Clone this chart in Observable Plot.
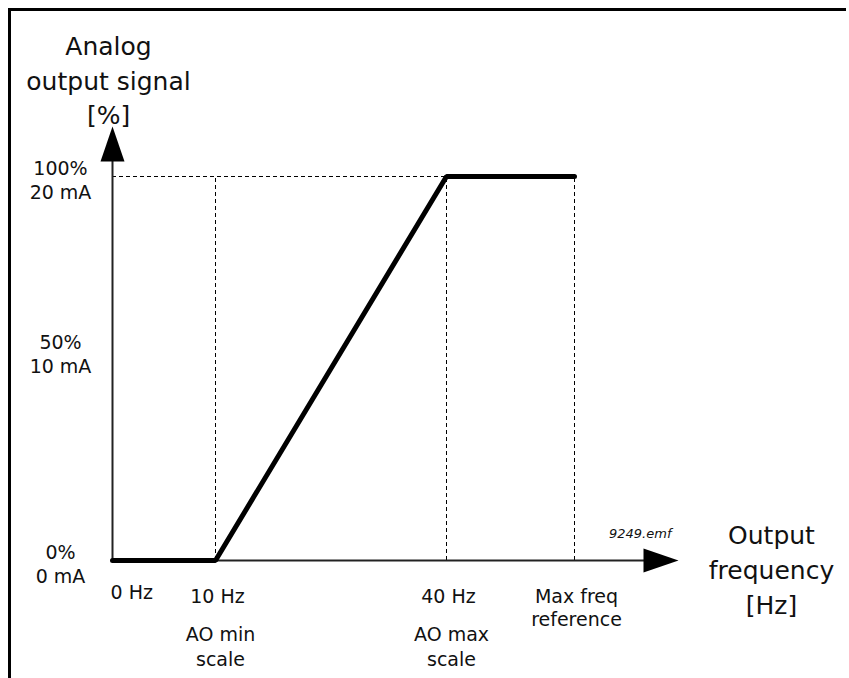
<!DOCTYPE html>
<html>
<head>
<meta charset="utf-8">
<script src="https://cdn.jsdelivr.net/npm/d3@7"></script>
<script src="https://cdn.jsdelivr.net/npm/@observablehq/plot@0.6"></script>
<style>
  html, body { margin: 0; background: #fff; overflow: hidden; }
  #wrap { position: relative; width: 849px; height: 678px; overflow: hidden; }
  #border { position: absolute; left: 8px; top: 8px; right: 3px; bottom: -10px;
            border-left: 3px solid #000; border-top: 3px solid #000; pointer-events: none; }
</style>
</head>
<body>
<div id="wrap"><div id="border"></div></div>
<script>
// ---- data (schematic) ----
const freqs = [0, 10, 40, 56];          // Hz; 56 = estimated "max freq reference"
const signal = [0, 0, 100, 100];        // % analog output
const guideFreqs = [10, 40, 56];        // dashed vertical guides
const guideLevel = 100;                 // dashed horizontal guide
const xTickValues = [10, 40, 56];
const xTickLabels = ["10 Hz", "40 Hz", "Max freq\nreference"];
const zeroTickValue = 0;
const zeroTickLabel = "0 Hz";
const aoValues = [10, 40];
const aoLabels = ["AO min\nscale", "AO max\nscale"];
const yEndValues = [0, 100];
const yEndLabels = ["0%\n0 mA", "100%\n20 mA"];
const yMidValues = [50];
const yMidLabels = ["50%\n10 mA"];
const yAxisEnd = 113;                   // % at arrow tip
const xAxisEnd = 69;                    // Hz at arrow tip
const yTitle = "Analog\noutput signal\n[%]";
const xTitle = "Output\nfrequency\n[Hz]";
const fileTag = "9249.emf";

// ---- tables built from arrays ----
const curve = freqs.map((f, i) => ({f, s: signal[i]}));
const guides = guideFreqs.map(f => ({f}));
const xTicks = xTickValues.map((v, i) => ({v, t: xTickLabels[i]}));
const aoTicks = aoValues.map((v, i) => ({v, t: aoLabels[i]}));
const yEnds = yEndValues.map((v, i) => ({v, t: yEndLabels[i]}));
const yMids = yMidValues.map((v, i) => ({v, t: yMidLabels[i]}));

const arrowSymbol = {
  draw(ctx) { ctx.moveTo(0, 0); ctx.lineTo(-12, 35); ctx.lineTo(12, 35); ctx.closePath(); }
};

const tickFont = 19;
const chart = Plot.plot({
  width: 849,
  height: 678,
  margin: 0,
  x: {type: "linear", domain: [0, 10, 40, 56], range: [112, 215, 446, 574], axis: null},
  y: {type: "linear", domain: [0, 100], range: [560, 176], axis: null},
  style: {fontFamily: "'DejaVu Sans', sans-serif", background: "transparent", overflow: "visible", color: "#111"},
  marks: [
    // dashed guides
    Plot.ruleY([guideLevel], {x1: 0, x2: freqs[freqs.length - 1], stroke: "#000", strokeWidth: 1, strokeDasharray: "4,3"}),
    Plot.ruleX(guides, {x: "f", y1: 0, y2: guideLevel, stroke: "#000", strokeWidth: 1, strokeDasharray: "4,3"}),
    // axes
    Plot.ruleX([{f: 0}], {x: "f", y1: 0, y2: yAxisEnd - 3, stroke: "#222", strokeWidth: 2}),
    Plot.ruleY([{s: 0}], {y: "s", x1: 0, x2: xAxisEnd - 2, stroke: "#222", strokeWidth: 2}),
    Plot.dot([{f: 0, s: yAxisEnd}], {x: "f", y: "s", symbol: arrowSymbol, r: 5, fill: "#000", stroke: "none"}),
    Plot.dot([{f: xAxisEnd, s: 0}], {x: "f", y: "s", symbol: arrowSymbol, r: 5, fill: "#000", stroke: "none", rotate: 90}),
    // signal curve
    Plot.line(curve, {x: "f", y: "s", stroke: "#000", strokeWidth: 5, strokeLinejoin: "miter", strokeLinecap: "round"}),
    // y tick labels
    Plot.text(yEnds, {x: () => 0, y: "v", text: "t", dx: -52, dy: 3, fontSize: tickFont, lineHeight: 1.26, textAnchor: "middle", fill: "#111"}),
    Plot.text(yMids, {x: () => 0, y: "v", text: "t", dx: -52, dy: -15, fontSize: tickFont, lineHeight: 1.26, textAnchor: "middle", fill: "#111"}),
    // x tick labels
    Plot.text([{v: zeroTickValue, t: zeroTickLabel}], {x: "v", y: () => 0, text: "t", dx: -2, dy: 25, lineAnchor: "top", textAnchor: "start", fontSize: tickFont, fill: "#111"}),
    Plot.text(xTicks, {x: "v", y: () => 0, text: "t", dx: 2, dy: 25, lineAnchor: "top", fontSize: tickFont, lineHeight: 1.26, fill: "#111"}),
    Plot.text(aoTicks, {x: "v", y: () => 0, text: "t", dx: 5, dy: 63, lineAnchor: "top", fontSize: tickFont, lineHeight: 1.3, fill: "#111"}),
    // axis titles
    Plot.text([yTitle], {x: () => 0, y: () => yAxisEnd, text: d => d, dx: -4, dy: -48, fontSize: 25, lineHeight: 1.38, fill: "#111"}),
    Plot.text([xTitle], {x: () => xAxisEnd, y: () => 0, text: d => d, dx: 93, dy: 7, fontSize: 25, lineHeight: 1.4, fill: "#111"}),
    // file tag
    Plot.text([fileTag], {x: () => xAxisEnd, y: () => 0, text: d => d, dx: -7, dy: -27, textAnchor: "end", fontSize: 13, fontStyle: "italic", fill: "#111"})
  ]
});
chart.style.position = "absolute";
chart.style.left = "0";
chart.style.top = "0";
document.getElementById("wrap").prepend(chart);
</script>
</body>
</html>
